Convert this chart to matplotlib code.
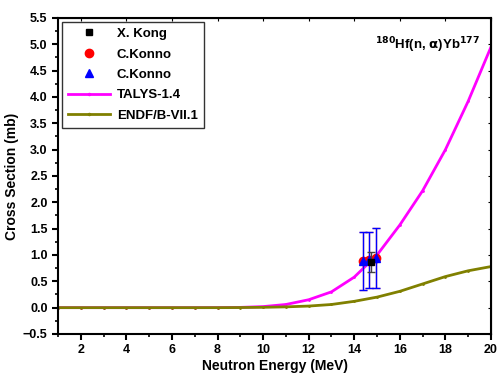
import matplotlib
matplotlib.use('Agg')
import matplotlib.pyplot as plt
from matplotlib.lines import Line2D
from matplotlib.ticker import MultipleLocator

plt.rcParams['font.family'] = ['Liberation Sans', 'DejaVu Sans']
plt.rcParams['font.weight'] = 'bold'

# theory curves
energy = [1, 2, 3, 4, 5, 6, 7, 8, 9, 10, 11, 12, 13, 14, 15, 16, 17, 18, 19, 20]
talys = [0, 0, 0, 0, 0, 0, 0, 0.001, 0.005, 0.02, 0.06, 0.15, 0.30, 0.58, 1.0,
         1.57, 2.22, 3.0, 3.92, 4.95]
endf = [0, 0, 0, 0, 0, 0, 0, 0, 0.002, 0.006, 0.015, 0.03, 0.06, 0.12, 0.2,
        0.31, 0.45, 0.59, 0.70, 0.78]

# measurements
kong_e = [14.72]
kong_xs = [0.87]
kong_err = [0.19]

konno_e = [14.38, 14.64, 14.94]
konno_xs = [0.88, 0.90, 0.95]
konno_err = [0.55, 0.53, 0.57]

TALYS_C = '#FF00FF'
ENDF_C = '#808000'

fig = plt.figure(figsize=(5.0, 3.74), dpi=100)
ax = fig.add_axes([0.116, 0.107, 0.866, 0.845])

ax.plot(energy, talys, color=TALYS_C, lw=2, marker='o', ms=1.0, zorder=2)
ax.plot(energy, endf, color=ENDF_C, lw=2, marker='o', ms=1.0, zorder=2)

ax.errorbar(konno_e, konno_xs, yerr=konno_err, fmt='o', color='red', ms=6,
            ecolor='#F08080', elinewidth=1, capsize=3, zorder=3)
ax.errorbar(konno_e, konno_xs, yerr=konno_err, fmt='^', color='blue', ms=6,
            ecolor='blue', elinewidth=1, capsize=3, zorder=4)
ax.errorbar(kong_e, kong_xs, yerr=kong_err, fmt='s', color='black', ms=5,
            ecolor='#444444', elinewidth=1, capsize=3, zorder=5)

ax.set_xlim(1, 20)
ax.set_ylim(-0.5, 5.5)
ax.xaxis.set_major_locator(MultipleLocator(2))
ax.xaxis.set_minor_locator(MultipleLocator(1))
ax.yaxis.set_major_locator(MultipleLocator(0.5))
ax.yaxis.set_minor_locator(MultipleLocator(0.25))
ax.tick_params(which='major', direction='out', length=4, width=1.5, labelsize=9)
ax.tick_params(which='minor', direction='out', length=2.5, width=1.2)
for s in ax.spines.values():
    s.set_linewidth(1.5)

# small inward ticks on top / right
top = ax.secondary_xaxis('top')
top.xaxis.set_major_locator(MultipleLocator(2))
top.tick_params(direction='in', length=2, width=0.8, labeltop=False)
right = ax.secondary_yaxis('right')
right.yaxis.set_major_locator(MultipleLocator(0.5))
right.tick_params(direction='in', length=2, width=0.8, labelright=False)

ax.set_xlabel('Neutron Energy (MeV)', fontsize=10, fontweight='bold', labelpad=2)
ax.set_ylabel('Cross Section (mb)', fontsize=10, fontweight='bold', labelpad=3)

handles = [
    Line2D([], [], ls='none', marker='s', color='black', ms=5),
    Line2D([], [], ls='none', marker='o', color='red', ms=6),
    Line2D([], [], ls='none', marker='^', color='blue', ms=6),
    Line2D([], [], color=TALYS_C, lw=2, marker='o', ms=1.5),
    Line2D([], [], color=ENDF_C, lw=2, marker='o', ms=1.5),
]
labels = ['X. Kong', 'C.Konno', 'C.Konno', 'TALYS-1.4', 'ENDF/B-VII.1']
leg = ax.legend(handles, labels, loc='upper left', frameon=True, fancybox=False,
                edgecolor='black', handlelength=3.2, handletextpad=0.5,
                borderaxespad=0.3, borderpad=0.45, labelspacing=0.62,
                prop={'weight': 'bold', 'size': 9.5})
leg.get_frame().set_linewidth(1.0)

ax.text(0.975, 0.915, r'$^{\mathbf{180}}$Hf(n, $\mathbf{\alpha}$)Yb$^{\mathbf{177}}$',
        transform=ax.transAxes, ha='right', va='center', fontsize=9.5, fontweight='bold')

fig.savefig('out.png', dpi=100)
